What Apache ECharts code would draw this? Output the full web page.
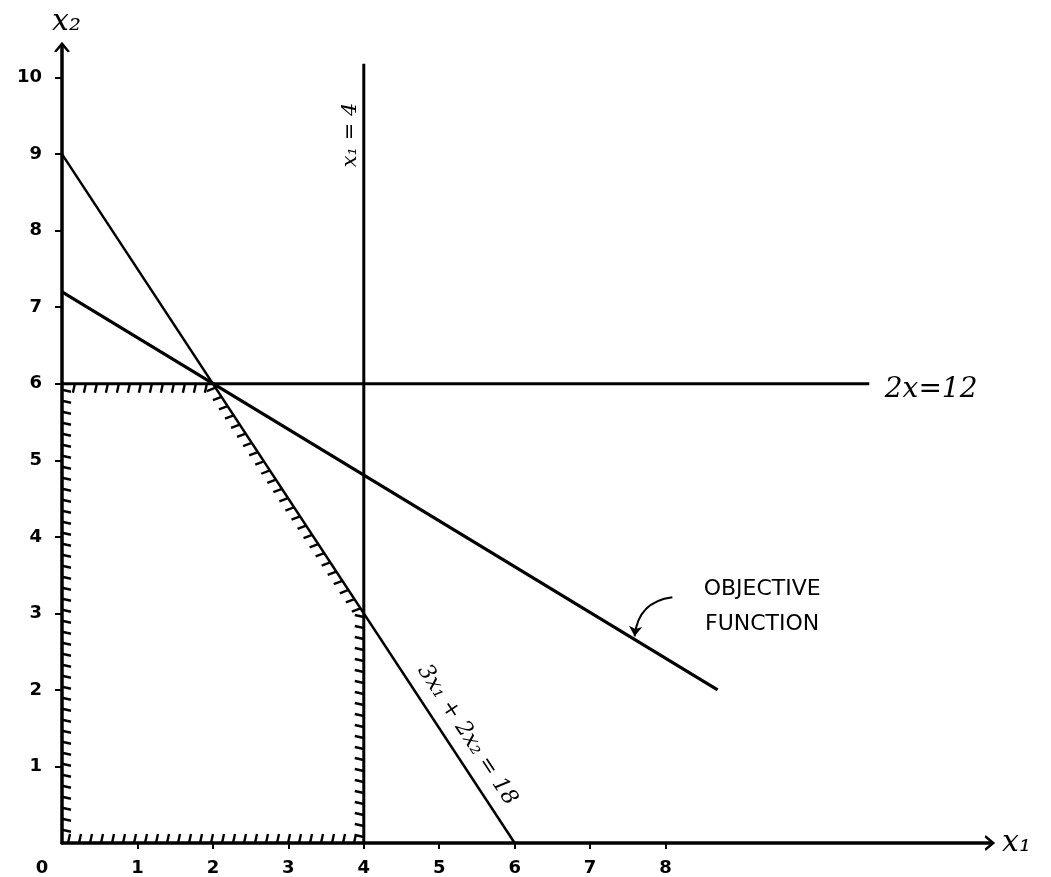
<!DOCTYPE html>
<html><head><meta charset="utf-8">
<script src="https://cdn.jsdelivr.net/npm/echarts@6/dist/echarts.min.js"></script>
<style>html,body{margin:0;padding:0;background:#fff}#c{width:1051px;height:877px}</style>
</head><body><div id="c"></div>
<script>
// ---- data ----
const xTickValues = [0, 1, 2, 3, 4, 5, 6, 7, 8];
const yTickValues = [1, 2, 3, 4, 5, 6, 7, 8, 9, 10];
const constraintX1 = [[4, 0], [4, 10.18]];          // x1 = 4
const constraintX2 = [[0, 6], [10.7, 6]];           // 2x2 = 12
const constraintSum = [[0, 9], [6, 0]];             // 3x1 + 2x2 = 18
const objectiveLine = [[0, 7.2], [8.69, 2.0]];      // objective function
const feasibleRegion = [[0, 0], [4, 0], [4, 3], [2, 6], [0, 6]];
const pointerArrow = [[8.09, 3.21], [7.59, 2.70]];
const labelTexts = ['x₁ = 4', '2x=12', '3x₁ + 2x₂ = 18', 'OBJECTIVE\nFUNCTION'];
const labelAnchors = [[3.82, 9.25], [11.52, 5.92], [5.37, 1.41], [9.28, 3.09]];
const labelRotations = [90, 0, -56.7, 0];

// ---- chart ----
const chart = echarts.init(document.getElementById('c'), null, {renderer: 'canvas'});
const ink = '#000000';
const segs = feasibleRegion.map((p, i) => {
  const q = feasibleRegion[(i + 1) % feasibleRegion.length];
  return [p[0], p[1], q[0], q[1]];
});
const cx = feasibleRegion.reduce((s, p) => s + p[0], 0) / feasibleRegion.length;
const cy = feasibleRegion.reduce((s, p) => s + p[1], 0) / feasibleRegion.length;
const chevron = 'path://M0,12 L10,0 L20,12 L17,13 L10,5 L3,13 Z';
const labelSizes = [21, 28, 22, 22];

const option = {
  backgroundColor: '#fff',
  animation: false,
  textStyle: {color: ink},
  grid: {left: 62, right: 61, top: 47, bottom: 34, containLabel: false},
  xAxis: {
    type: 'value', min: 0, max: 12.3,
    name: 'x₁', nameLocation: 'end', nameGap: 12,
    nameTextStyle: {fontSize: 30, fontFamily: 'DejaVu Serif', fontStyle: 'italic', color: ink, verticalAlign: 'middle'},
    axisLine: {show: true, symbol: ['none', chevron], symbolSize: [16, 12], lineStyle: {color: ink, width: 3.5}},
    axisTick: {show: true, length: 6, lineStyle: {color: ink, width: 2}, customValues: xTickValues.slice(1)},
    axisLabel: {
      customValues: xTickValues, margin: 16, color: ink, fontSize: 18, fontWeight: 'bold', fontFamily: 'DejaVu Sans',
      formatter: v => v === 0 ? '{o|0}' : String(v),
      rich: {o: {padding: [0, 40, 0, 0], fontSize: 18, fontWeight: 'bold', fontFamily: 'DejaVu Sans', color: ink}}
    },
    splitLine: {show: false}
  },
  yAxis: {
    type: 'value', min: 0, max: 10.4,
    name: 'x₂', nameLocation: 'end', nameGap: 10,
    nameTextStyle: {fontSize: 30, fontFamily: 'DejaVu Serif', fontStyle: 'italic', color: ink, align: 'left', padding: [0, 0, 0, -10]},
    axisLine: {show: true, symbol: ['none', chevron], symbolSize: [16, 12], lineStyle: {color: ink, width: 3.5}},
    axisTick: {show: true, length: 7, lineStyle: {color: ink, width: 2}, customValues: yTickValues},
    axisLabel: {customValues: yTickValues, margin: 20, color: ink, fontSize: 18, fontWeight: 'bold', fontFamily: 'DejaVu Sans'},
    splitLine: {show: false}
  },
  series: [
    {type: 'line', data: constraintX1, symbol: 'none', lineStyle: {color: ink, width: 3}, z: 3},
    {type: 'line', data: constraintX2, symbol: 'none', lineStyle: {color: ink, width: 3}, z: 3},
    {type: 'line', data: constraintSum, symbol: 'none', lineStyle: {color: ink, width: 2.5}, z: 3},
    {type: 'line', data: objectiveLine, symbol: 'none', lineStyle: {color: ink, width: 3.2}, z: 3},
    {
      type: 'custom', data: segs, encode: {x: [0, 2], y: [1, 3]}, z: 4, silent: true,
      renderItem(params, api) {
        const a = api.coord([api.value(0), api.value(1)]);
        const b = api.coord([api.value(2), api.value(3)]);
        const c = api.coord([cx, cy]);
        const dx = b[0] - a[0], dy = b[1] - a[1];
        const L = Math.hypot(dx, dy);
        const ux = dx / L, uy = dy / L;
        let nx = -uy, ny = ux;
        const mx = (a[0] + b[0]) / 2, my = (a[1] + b[1]) / 2;
        if ((c[0] - mx) * nx + (c[1] - my) * ny < 0) { nx = -nx; ny = -ny; }
        const step = 11, len = 9;
        const children = [];
        for (let t = 6; t < L - 3; t += step) {
          const px = a[0] + ux * t, py = a[1] + uy * t;
          children.push({
            type: 'line',
            shape: {x1: px, y1: py, x2: px + nx * len + ux * 2, y2: py + ny * len + uy * 2},
            style: {stroke: ink, lineWidth: 2.4}
          });
        }
        return {type: 'group', children};
      }
    },
    {
      type: 'lines', coordinateSystem: 'cartesian2d', z: 5,
      data: [{coords: pointerArrow}],
      symbol: ['none', 'arrow'], symbolSize: 10,
      lineStyle: {color: ink, width: 2, curveness: -0.4, opacity: 1}
    },
    {
      type: 'custom', z: 6, silent: true,
      data: labelAnchors.map((p, i) => [p[0], p[1], i]),
      encode: {x: 0, y: 1},
      renderItem(params, api) {
        const i = api.value(2);
        const p = api.coord([api.value(0), api.value(1)]);
        return {
          type: 'text',
          x: p[0], y: p[1],
          rotation: labelRotations[i] * Math.PI / 180,
          style: {
            text: labelTexts[i],
            fill: ink,
            fontSize: labelSizes[i],
            fontFamily: i === 3 ? 'DejaVu Sans' : 'DejaVu Serif',
            fontStyle: i === 3 ? 'normal' : 'italic',
            lineHeight: 35,
            align: 'center',
            verticalAlign: 'middle'
          }
        };
      }
    }
  ]
};
chart.setOption(option);
</script>
</body></html>
